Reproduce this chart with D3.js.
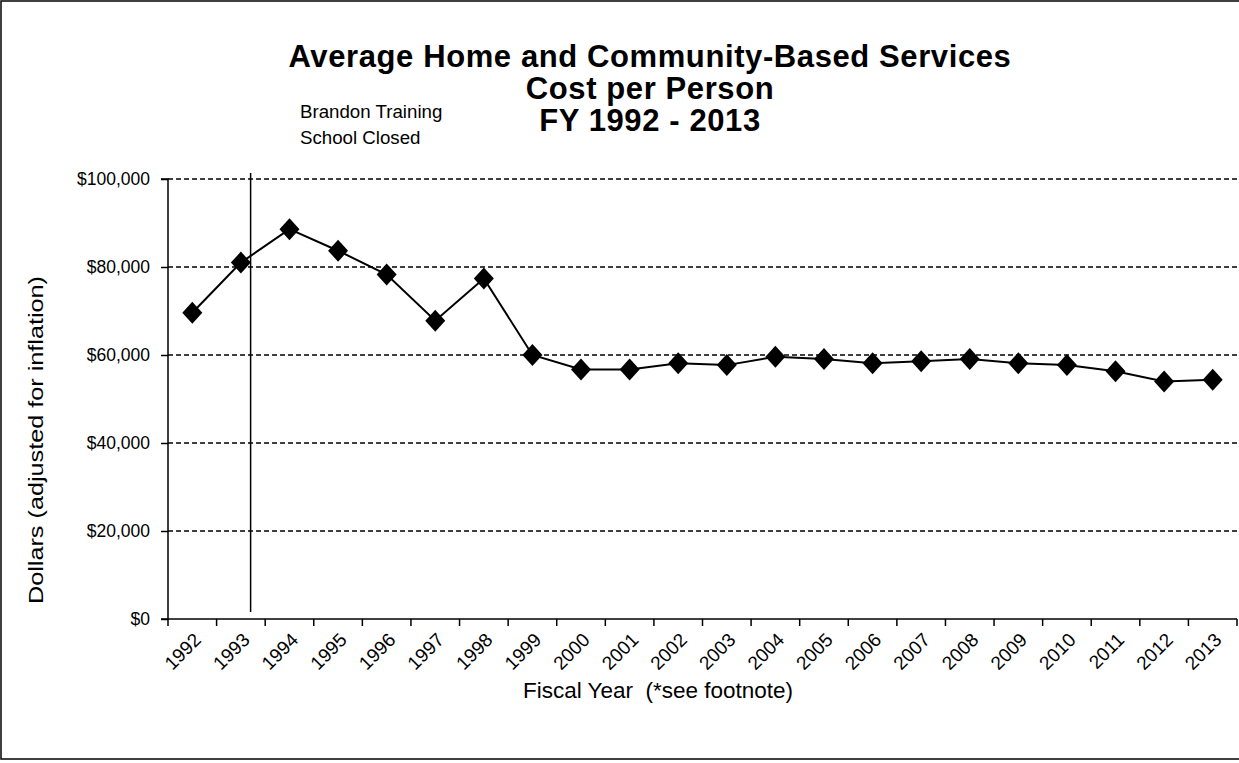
<!DOCTYPE html>
<html><head><meta charset="utf-8">
<script src="https://cdn.jsdelivr.net/npm/d3@7"></script>
<style>html,body{margin:0;padding:0;background:#fff;}svg{display:block;font-family:"Liberation Sans",Arial,sans-serif;}</style>
</head><body>
<svg id="c" width="1239" height="763"></svg>
<script>
const years = ["1992","1993","1994","1995","1996","1997","1998","1999","2000","2001","2002","2003","2004","2005","2006","2007","2008","2009","2010","2011","2012","2013"];
const costs = [69600,81000,88600,83700,78300,67800,77400,60000,56700,56700,58100,57700,59600,59100,58100,58600,59100,58100,57700,56300,54000,54400];
const yTicks = [0,20000,40000,60000,80000,100000];
const titleLines = ["Average Home and Community-Based Services","Cost per Person","FY 1992 - 2013"];
const noteLines = ["Brandon Training","School Closed"];

const svg = d3.select("#c");
const L=168, R=1237, T=179, B=619;
const x = d3.scaleBand().domain(years).range([L,R]);
const y = d3.scaleLinear().domain([0,100000]).range([B,T]);

svg.append("rect").attr("x",1).attr("y",1).attr("width",1250).attr("height",758)
  .attr("fill","none").attr("stroke","#000").attr("stroke-width",1.5);

// gridlines
svg.append("g").selectAll("line").data(yTicks.filter(d=>d>0)).join("line")
  .attr("x1",L).attr("x2",R).attr("y1",d=>y(d)).attr("y2",d=>y(d))
  .attr("stroke","#000").attr("stroke-width",1.4).attr("stroke-dasharray","5,3");

// y axis
const ya = svg.append("g").attr("transform",`translate(${L},0)`)
  .call(d3.axisLeft(y).tickValues(yTicks).tickSize(7).tickPadding(11).tickFormat(d=>"$"+d3.format(",")(d)));
ya.select(".domain").attr("stroke-width",1.5).attr("d",`M-7,${T}H0V${B}H-7`);
ya.selectAll(".tick line").attr("stroke-width",1.5);
ya.selectAll("text").attr("font-size",17.5).attr("font-family","Liberation Sans, Arial").attr("fill","#000");

// x axis
const xa = svg.append("g").attr("transform",`translate(0,${B})`)
  .call(d3.axisBottom(x).tickSize(0).tickPadding(0));
xa.select(".domain").attr("stroke-width",1.5).attr("d",`M${L},0H${R}`);
xa.selectAll(".tick line").remove();
svg.append("g").selectAll("line").data(years.concat(["end"])).join("line")
  .attr("x1",(d,i)=>L+i*x.step()).attr("x2",(d,i)=>L+i*x.step())
  .attr("y1",B).attr("y2",B+7).attr("stroke","#000").attr("stroke-width",1.5);
xa.selectAll(".tick text").attr("font-size",19).attr("font-family","Liberation Sans, Arial").attr("fill","#000")
  .attr("text-anchor","end").attr("dy",0)
  .attr("transform",`translate(10,22) rotate(-45)`);

// event line
const evX = x("1993")+x.step()*0.7;
svg.append("line").attr("x1",evX).attr("x2",evX).attr("y1",173).attr("y2",612)
  .attr("stroke","#000").attr("stroke-width",1.5);

// line
const cx = d=>x(d)+x.bandwidth()/2;
svg.append("path").datum(years.map((yr,i)=>[cx(yr),y(costs[i])]))
  .attr("d",d3.line()).attr("fill","none").attr("stroke","#000").attr("stroke-width",2);
svg.append("g").selectAll("path").data(years).join("path")
  .attr("transform",(d,i)=>`translate(${cx(d)},${y(costs[i])})`)
  .attr("d","M0,-11L10,0L0,11L-10,0Z").attr("fill","#000");

// titles
svg.append("g").selectAll("text").data(titleLines).join("text")
  .attr("x",650).attr("y",(d,i)=>67+i*32).attr("text-anchor","middle")
  .attr("font-size",31).attr("font-weight","bold").attr("letter-spacing",0.6).attr("fill","#000").text(d=>d);
svg.append("g").selectAll("text").data(noteLines).join("text")
  .attr("x",300).attr("y",(d,i)=>118+i*26).attr("font-size",18.7).attr("fill","#000").text(d=>d);

svg.append("text").attr("x",658).attr("y",698).attr("text-anchor","middle")
  .attr("font-size",22.5).attr("fill","#000").attr("xml:space","preserve").text("Fiscal Year  (*see footnote)");
svg.append("text").attr("transform","translate(43,440) rotate(-90)").attr("text-anchor","middle")
  .attr("font-size",21).attr("textLength",328).attr("lengthAdjust","spacingAndGlyphs")
  .attr("fill","#000").text("Dollars (adjusted for inflation)");
</script>
</body></html>
